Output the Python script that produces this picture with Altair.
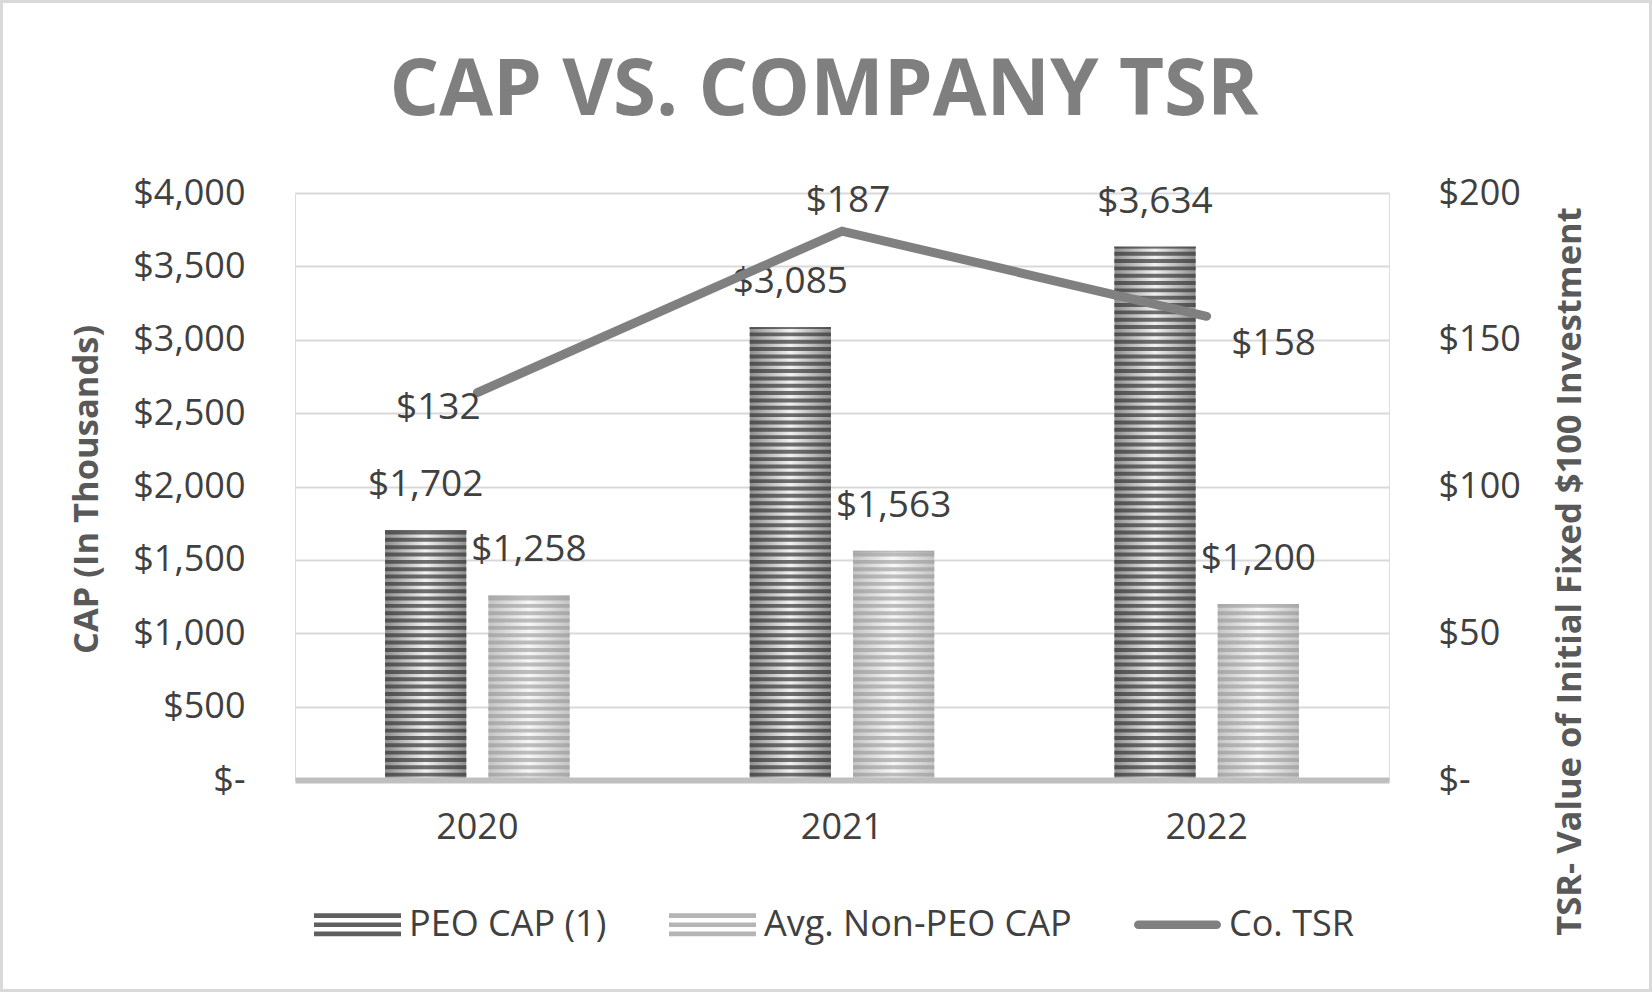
import altair as alt
import pandas as pd

# ---------------- data ----------------
years = ["2020", "2021", "2022"]
series_names = ["PEO CAP (1)", "Avg. Non-PEO CAP", "Co. TSR"]
peo_cap = [1702, 3085, 3634]
non_peo_cap = [1258, 1563, 1200]
co_tsr = [132, 187, 158]
left_ticks = [0, 500, 1000, 1500, 2000, 2500, 3000, 3500, 4000]
right_ticks = [0, 50, 100, 150, 200]

bar_series = series_names[:2]
bars_df = pd.DataFrame({
    "year": years + years,
    "series": [bar_series[0]] * 3 + [bar_series[1]] * 3,
    "value": peo_cap + non_peo_cap,
})
tsr_df = pd.DataFrame({"year": years, "tsr": co_tsr})

# horizontal stripe pattern derived from the bar values
STRIPE = 50
DARK = 27
stripe_rows = []
for yr, s, v in zip(bars_df["year"], bars_df["series"], bars_df["value"]):
    k = 0
    while k * STRIPE < v:
        lo = k * STRIPE + (STRIPE - DARK)
        if lo < v:
            stripe_rows.append({"year": yr, "series": s, "y0": lo, "y1": min(lo + DARK, v)})
        k += 1
    stripe_rows.append({"year": yr, "series": s, "y0": max(v - 12, 0), "y1": v})
stripes_df = pd.DataFrame(stripe_rows)

# ---------------- styles ----------------
FONT = "Open Sans"
TXT = "#404040"
AX_TITLE = "#595959"
W, H = 1094, 587
PAD = {"left": 295, "top": 193, "right": 263, "bottom": 212}

money = "datum.value == 0 ? '$-' : '$' + format(datum.value, ',')"

x_enc = alt.X(
    "year:N", sort=years,
    scale=alt.Scale(domain=years, paddingInner=0.494, paddingOuter=0.247),
    axis=alt.Axis(title=None, labelAngle=0, labelFontSize=36, labelColor=TXT,
                  labelFont=FONT, labelPadding=30, ticks=False,
                  domainColor="#bfbfbf", domainWidth=6, grid=False, zindex=1),
)
xoff = alt.XOffset("series:N", sort=bar_series,
                   scale=alt.Scale(domain=bar_series, paddingInner=0.214, paddingOuter=0))

left_scale = alt.Scale(domain=[0, 4000], nice=False)
left_axis = alt.Axis(
    values=left_ticks, labelExpr=money, title="CAP (In Thousands)",
    grid=True, gridColor="#d9d9d9", gridWidth=2, domain=False, ticks=False,
    labelFontSize=36, labelColor=TXT, labelFont=FONT, labelPadding=50,
    titleFontSize=34.5, titleFont=FONT, titleFontWeight="bold", titleColor=AX_TITLE,
    titleAngle=270, titleX=-208, titleY=296, titleAlign="center", titleBaseline="middle",
)
right_axis = alt.Axis(
    orient="right", values=right_ticks, labelExpr=money,
    title="TSR- Value of Initial Fixed $100 Investment",
    grid=False, domain=False, ticks=False,
    labelFontSize=36, labelColor=TXT, labelFont=FONT, labelPadding=49, labelAlign="left",
    titleFontSize=34.5, titleFont=FONT, titleFontWeight="bold", titleColor=AX_TITLE,
    titleAngle=270, titleX=181, titleY=378, titleAlign="center", titleBaseline="middle",
    titleLimit=1000,
)


def grad(edge, mid):
    return alt.Gradient(
        gradient="linear", x1=0, y1=0, x2=1, y2=0,
        stops=[alt.GradientStop(offset=0, color=edge),
               alt.GradientStop(offset=0.5, color=mid),
               alt.GradientStop(offset=1, color=edge)],
    )


base_fill = {bar_series[0]: grad("#8e8e8e", "#f2f2f2"), bar_series[1]: grad("#c4c4c4", "#f7f7f7")}
stripe_fill = {bar_series[0]: grad("#4f4f4f", "#6e6e6e"), bar_series[1]: grad("#a8a8a8", "#bdbdbd")}

layers_left = []
for s in bar_series:
    layers_left.append(
        alt.Chart(bars_df).transform_filter(alt.datum.series == s).mark_bar(color=base_fill[s]).encode(
            x=x_enc, xOffset=xoff,
            y=alt.Y("value:Q", scale=left_scale, axis=left_axis),
        )
    )
for s in bar_series:
    layers_left.append(
        alt.Chart(stripes_df).transform_filter(alt.datum.series == s).mark_bar(color=stripe_fill[s]).encode(
            x=x_enc, xOffset=xoff,
            y=alt.Y("y0:Q", scale=left_scale, axis=left_axis),
            y2="y1:Q",
        )
    )
layers_left.append(
    alt.Chart(bars_df).transform_calculate(
        label="'$' + format(datum.value, ',')"
    ).mark_text(fontSize=37, font=FONT, color=TXT, dy=-45, baseline="middle").encode(
        x=x_enc, xOffset=xoff,
        y=alt.Y("value:Q", scale=left_scale, axis=left_axis),
        text="label:N",
    )
)
left = alt.layer(*layers_left)

right_scale = alt.Scale(domain=[0, 200], nice=False)
layers_right = [
    alt.Chart(tsr_df).mark_line(color="#808080", strokeWidth=9, strokeCap="round").encode(
        x=x_enc, y=alt.Y("tsr:Q", scale=right_scale, axis=right_axis),
    )
]
tsr_label_offsets = [(-39, 15), (6, -30), (67, 28)]
for yr, (ddx, ddy) in zip(years, tsr_label_offsets):
    layers_right.append(
        alt.Chart(tsr_df).transform_filter(alt.datum.year == yr).transform_calculate(
            label="'$' + format(datum.tsr, ',')"
        ).mark_text(fontSize=37, font=FONT, color=TXT, dx=ddx, dy=ddy, baseline="middle").encode(
            x=x_enc, y=alt.Y("tsr:Q", scale=right_scale, axis=right_axis), text="label:N",
        )
    )
right = alt.layer(*layers_right)

# legend (native legend with custom symbol paths)
stripe_path = ("M-1,-0.264H1V-0.158H-1Z M-1,-0.053H1V0.053H-1Z M-1,0.158H1V0.264H-1Z")
line_path = ("M-0.9,-0.1H0.9A0.1,0.1 0 0 1 0.9,0.1H-0.9A0.1,0.1 0 0 1 -0.9,-0.1Z")
legend_def = alt.Legend(
    orient="none", legendX=19, legendY=688, direction="horizontal", title=None,
    symbolSize=7569, symbolStrokeWidth=0, symbolOpacity=1,
    labelFontSize=36, labelColor=TXT, labelFont=FONT, labelOffset=8, columnPadding=62,
    labelLimit=1000,
)
legend_layer = alt.Chart(pd.DataFrame({"series": series_names})).transform_filter("false").mark_point(
    filled=True
).encode(
    color=alt.Color("series:N", sort=series_names,
                    scale=alt.Scale(domain=series_names, range=["#5f5f5f", "#b5b5b5", "#808080"]),
                    legend=legend_def),
    shape=alt.Shape("series:N", sort=series_names,
                    scale=alt.Scale(domain=series_names, range=[stripe_path, stripe_path, line_path]),
                    legend=legend_def),
)

frame = alt.Chart(pd.DataFrame({"f": [0]})).mark_rect(
    filled=False, stroke="#d9d9d9", strokeWidth=3
).encode(
    x=alt.value(-PAD["left"] + 1.5), x2=alt.value(W + PAD["right"] - 1.5),
    y=alt.value(-PAD["top"] + 1.5), y2=alt.value(H + PAD["bottom"] - 1.5),
)

# the frame rect reaches the top edge, so the title offset is measured from the content bounds
chart = alt.layer(left, right, legend_layer, frame).resolve_scale(y="independent").properties(
    width=W, height=H,
    autosize=alt.AutoSizeParams(type="none"),
    padding=PAD,
    title=alt.TitleParams(
        text="CAP VS. COMPANY TSR", fontSize=78, font=FONT, fontWeight="bold",
        color="#7f7f7f", anchor="middle", baseline="alphabetic", offset=-193, dx=-18,
        frame="group",
    ),
).configure_view(stroke=None).configure(background="white")

chart.save("out.html", embed_options={"renderer": "svg", "actions": False})
